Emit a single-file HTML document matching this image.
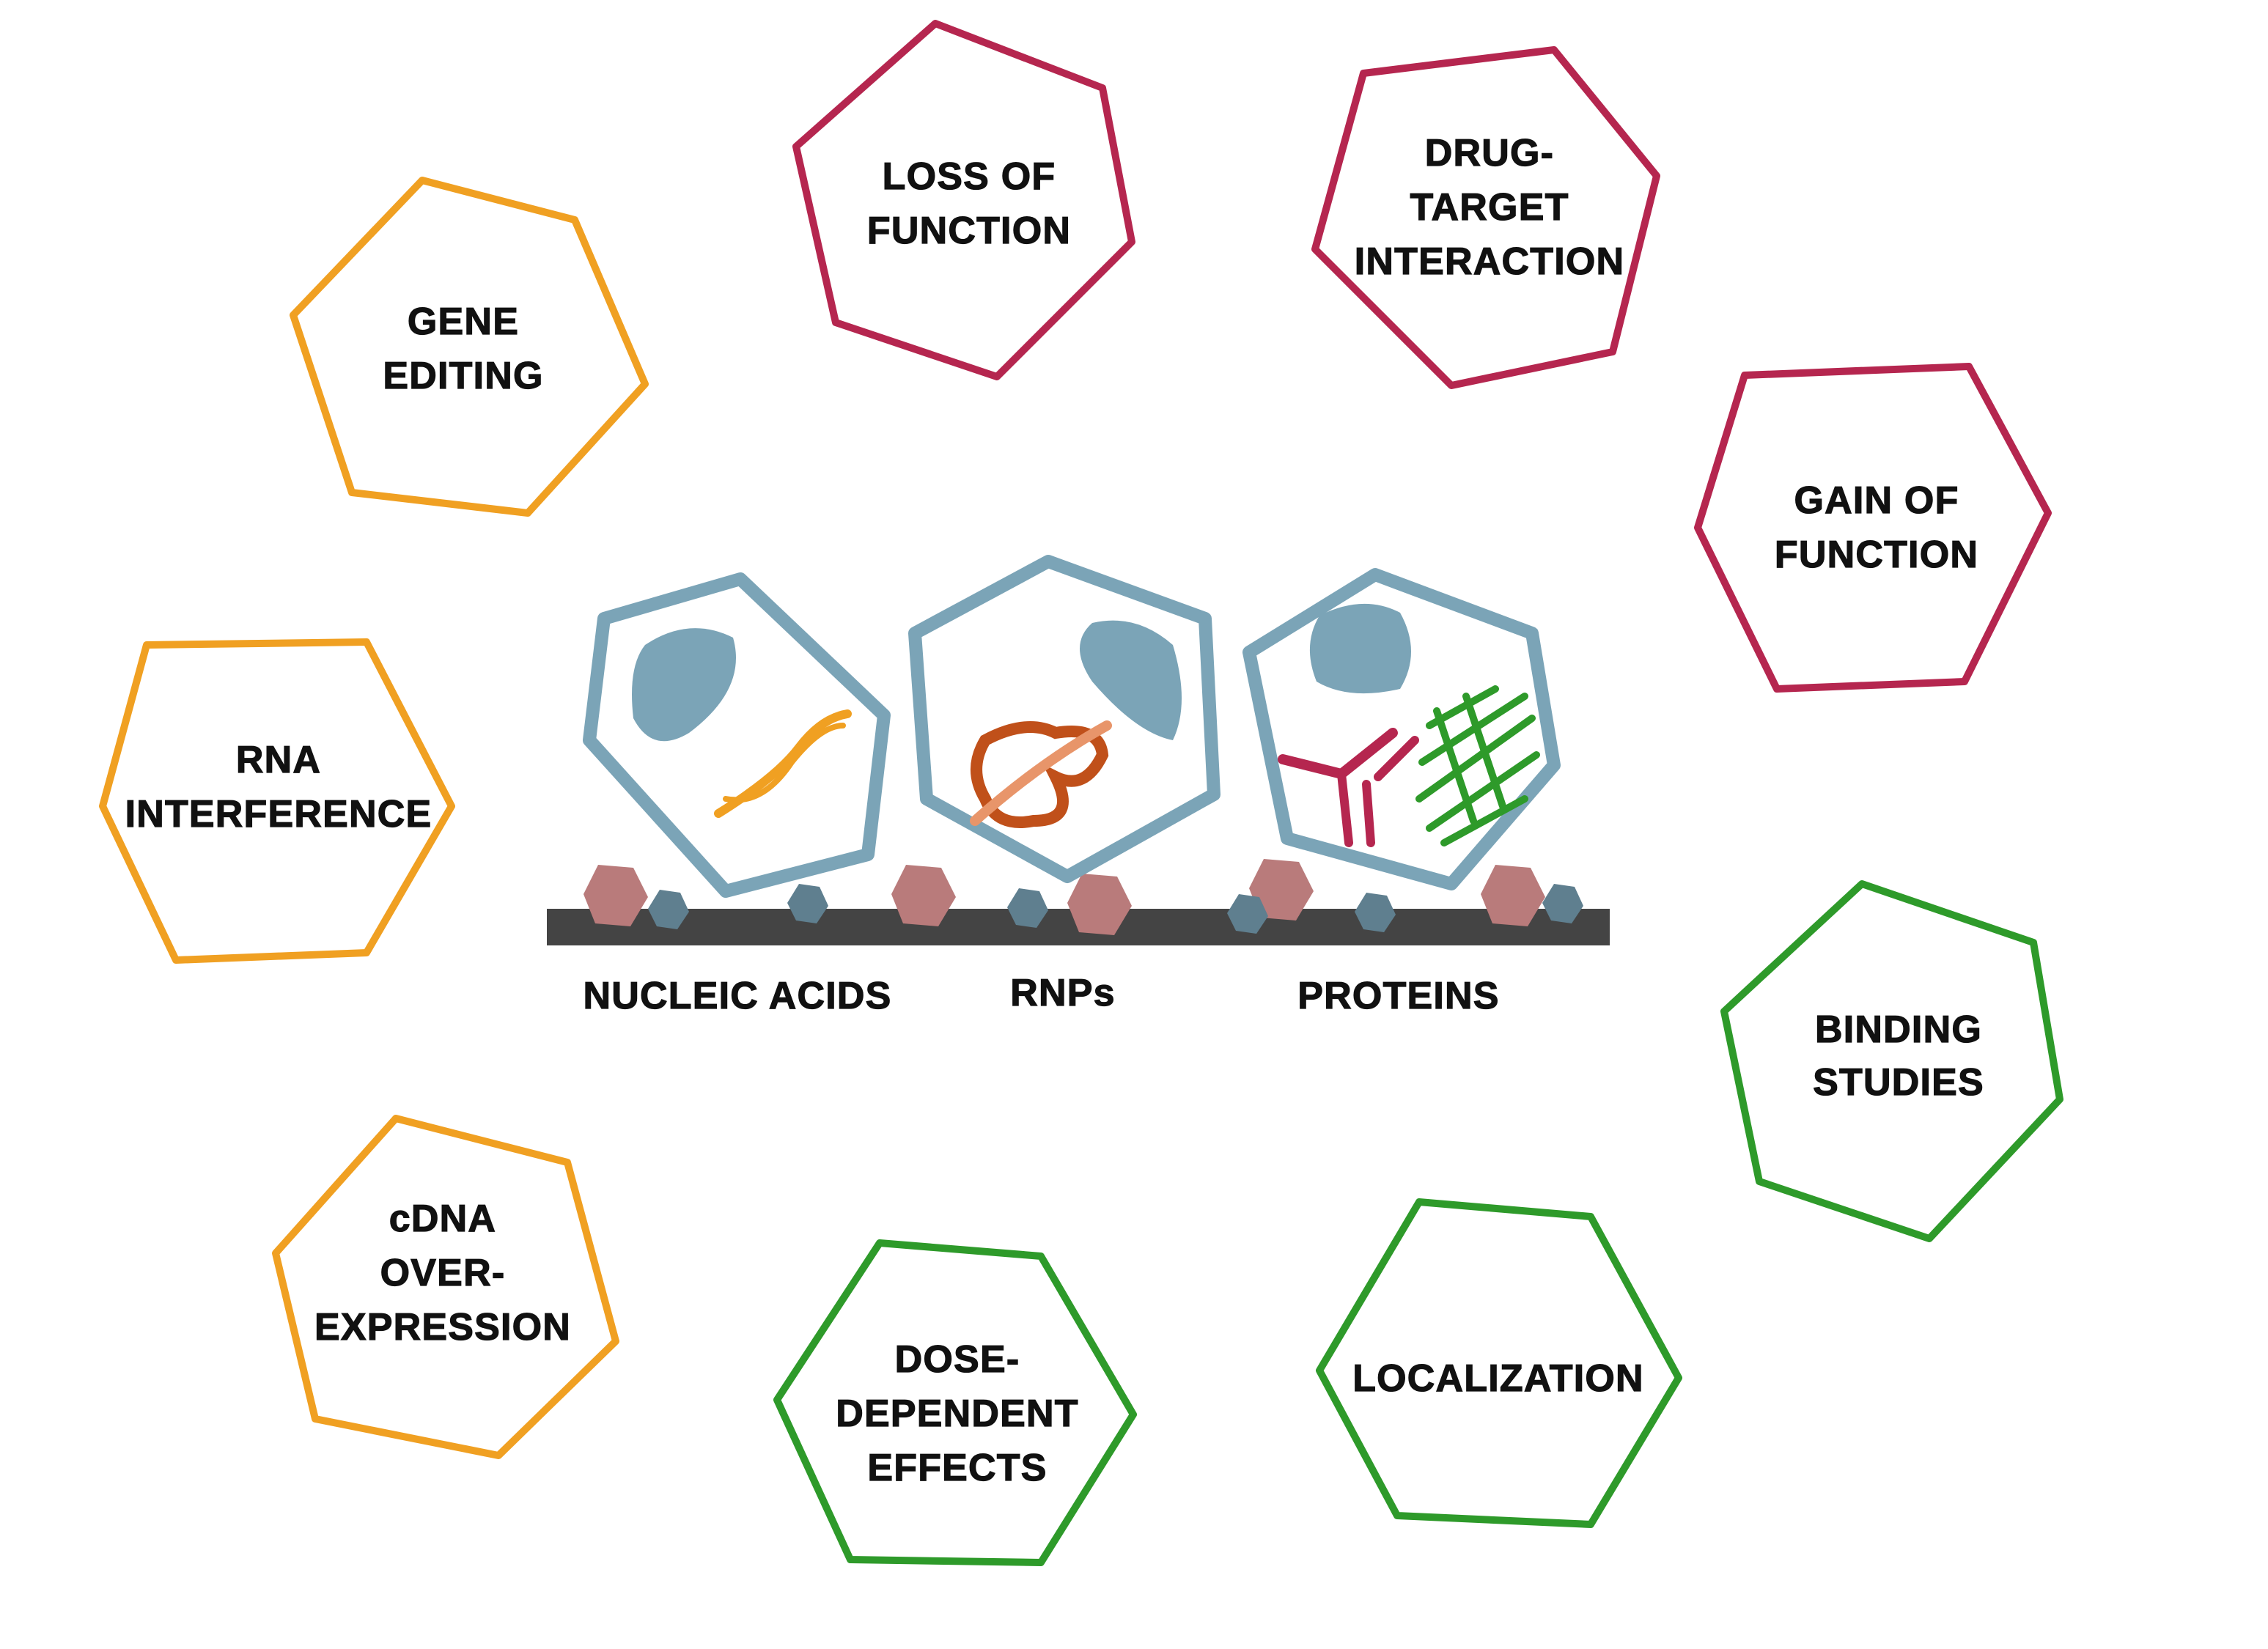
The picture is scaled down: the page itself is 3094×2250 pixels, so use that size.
<!DOCTYPE html>
<html><head><meta charset="utf-8"><style>
html,body{margin:0;padding:0;background:#fff}
svg{display:block}
text{font-family:"Liberation Sans",Arial,sans-serif;font-weight:bold;fill:#111;stroke:#111;stroke-width:0.6;text-anchor:middle;letter-spacing:0.6px}
</style></head><body>
<svg width="3094" height="2250" viewBox="0 0 1547 1125" xmlns="http://www.w3.org/2000/svg">
<defs><filter id="r"><feGaussianBlur stdDeviation="0"/></filter></defs>
<g fill="none" stroke-width="5" stroke-linejoin="round">
<polygon stroke="#f0a022" points="288,123 392,150 440,262 360,350 240,336 200,215"/>
<polygon stroke="#b5264f" points="638,16 752,60 772,165 680,257 570,220 543,100"/>
<polygon stroke="#b5264f" points="930,50 1060,34 1130,120 1100,240 990,263 897,170"/>
<polygon stroke="#b5264f" points="1190,256 1343,250 1397,350 1340,465 1212,470 1158,360"/>
<polygon stroke="#f0a022" points="100,440 250,438 308,550 250,650 120,655 70,550"/>
<polygon stroke="#2e9a2a" points="1270,603 1387,643 1405,750 1316,845 1200,806 1176,690"/>
<polygon stroke="#f0a022" points="270,763 387,793 420,915 340,993 215,968 188,855"/>
<polygon stroke="#2e9a2a" points="600,848 710,857 773,965 710,1066 580,1064 530,955"/>
<polygon stroke="#2e9a2a" points="968,820 1085,830 1145,940 1085,1040 953,1034 900,935"/>
</g>
<g font-size="26">
<text x="316" y="228">GENE</text><text x="316" y="265">EDITING</text>
<text x="661" y="129">LOSS OF</text><text x="661" y="166">FUNCTION</text>
<text x="1016" y="113">DRUG-</text><text x="1016" y="150">TARGET</text><text x="1016" y="187">INTERACTION</text>
<text x="1280" y="350">GAIN OF</text><text x="1280" y="387">FUNCTION</text>
<text x="190" y="527">RNA</text><text x="190" y="564">INTERFERENCE</text>
<text x="1295" y="711">BINDING</text><text x="1295" y="747">STUDIES</text>
<text x="302" y="840">cDNA</text><text x="302" y="877">OVER-</text><text x="302" y="914">EXPRESSION</text>
<text x="653" y="936">DOSE-</text><text x="653" y="973">DEPENDENT</text><text x="653" y="1010">EFFECTS</text>
<text x="1022" y="949">LOCALIZATION</text>
<text x="503" y="688">NUCLEIC ACIDS</text><text x="725" y="686">RNPs</text><text x="954" y="688">PROTEINS</text>
</g>
<rect x="373" y="620" width="725" height="25" fill="#444"/>
<g fill="#b97b7b">
<polygon points="408,590 432,592 442,612 430,632 406,630 398,610"/>
<polygon points="618,590 642,592 652,612 640,632 616,630 608,610"/>
<polygon points="738,596 762,598 772,618 760,638 736,636 728,616"/>
<polygon points="862,586 886,588 896,608 884,628 860,626 852,606"/>
<polygon points="1020,590 1044,592 1054,612 1042,632 1018,630 1010,610"/>
</g>
<g fill="#5f7f8f">
<polygon points="450,607 464,609 470,622 462,634 448,632 442,620"/>
<polygon points="545,603 559,605 565,618 557,630 543,628 537,616"/>
<polygon points="695,606 709,608 715,621 707,633 693,631 687,619"/>
<polygon points="845,610 859,612 865,625 857,637 843,635 837,623"/>
<polygon points="932,609 946,611 952,624 944,636 930,634 924,622"/>
<polygon points="1060,603 1074,605 1080,618 1072,630 1058,628 1052,616"/>
</g>
<g fill="none" stroke="#7ba4b7" stroke-width="9" stroke-linejoin="round">
<polygon points="412,422 505,395 603,488 592,583 495,608 402,505"/>
<polygon points="624,432 715,383 822,422 828,542 728,598 632,545"/>
<polygon points="852,445 938,392 1045,432 1060,522 990,603 878,572"/>
</g>
<g fill="#7ba4b7">
<path d="M440,440 Q470,420 500,435 Q510,470 470,500 Q445,515 432,490 Q428,455 440,440Z"/>
<path d="M745,425 Q775,418 800,440 Q812,480 800,505 Q775,500 745,465 Q728,440 745,425Z"/>
<path d="M900,420 Q930,405 955,418 Q970,445 955,470 Q920,478 898,465 Q888,440 900,420Z"/>
</g>
<g fill="none" stroke-linecap="round">
<path d="M490,555 Q530,530 545,510 Q560,490 578,487" stroke="#f0a022" stroke-width="6"/>
<path d="M495,545 Q520,550 540,520 Q560,495 575,495" stroke="#f0a022" stroke-width="4"/>
<path d="M672,505 Q700,490 720,500 Q750,495 752,515 Q740,540 720,530 Q735,560 705,560 Q680,565 672,545 Q660,525 672,505Z" stroke="#c0501a" stroke-width="8"/>
<path d="M665,560 Q710,520 755,495" stroke="#e8956a" stroke-width="7"/>
<path d="M875,518 L915,528 L950,500" stroke="#b5264f" stroke-width="7"/>
<path d="M915,528 L920,575 M932,535 L935,575 M940,530 L965,505" stroke="#b5264f" stroke-width="6"/>
<path d="M975,495 L1020,470 M970,520 L1040,475 M968,545 L1045,490 M975,565 L1048,515 M985,575 L1040,545 M980,485 L1005,560 M1000,475 L1025,550" stroke="#2e9a2a" stroke-width="5"/>
</g>
</svg>
</body></html>
